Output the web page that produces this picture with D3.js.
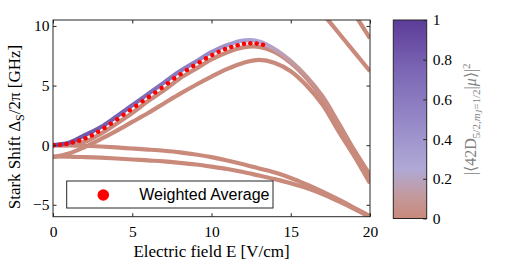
<!DOCTYPE html>
<html>
<head>
<meta charset="utf-8">
<script src="https://cdn.jsdelivr.net/npm/d3@7/dist/d3.min.js"></script>
<style>
  body { margin: 0; background: #fff; }
  svg { display: block; }
</style>
</head>
<body>
<div id="chart"></div>
<script>

// electric field samples (V/cm)
fieldE = [0, 1, 2, 3, 4, 5, 6, 7, 8, 9, 10, 11, 12, 13, 14, 15, 16, 17, 18, 19, 20]

// Stark shifted levels (GHz)
levelA = [0, 0.2, 0.85, 1.5, 2.4, 3.35, 4.3, 5.25, 6.2, 7.0, 7.8, 8.4, 8.78, 8.7, 8.05, 7.05, 5.75, 4.1, 1.9, -0.4, -2.5]
levelAWeight = [0.88, 0.86, 0.84, 0.81, 0.78, 0.74, 0.7, 0.65, 0.6, 0.54, 0.47, 0.4, 0.33, 0.26, 0.19, 0.13, 0.08, 0.04, 0.02, 0.01, 0]
levelB = [0, 0.0, 0.28, 0.95, 1.8, 2.7, 3.7, 4.6, 5.6, 6.4, 7.2, 7.8, 8.2, 8.25, 7.8, 6.9, 5.6, 3.9, 1.6, -0.7, -2.8]
levelC = [-1.0, -0.7, -0.15, 0.5, 1.2, 1.95, 2.7, 3.5, 4.3, 5.05, 5.75, 6.4, 6.9, 7.15, 6.9, 6.2, 5.0, 3.4, 1.2, -0.9, -3.2]
levelD = [0, -0.01, -0.05, -0.11, -0.19, -0.28, -0.37, -0.47, -0.6, -0.78, -1.0, -1.28, -1.6, -1.95, -2.3, -2.75, -3.3, -3.9, -4.55, -5.25, -5.95]
levelE = [-0.95, -0.96, -1.0, -1.05, -1.12, -1.2, -1.28, -1.36, -1.48, -1.62, -1.8, -2.0, -2.25, -2.55, -2.85, -3.2, -3.6, -4.1, -4.7, -5.35, -6.05]

// levels coming down from above
fieldF = [17, 18, 19, 20]
levelF = [11.07, 9.45, 7.83, 6.2]
fieldG = [18.5, 19, 20]
levelG = [12.1, 11.05, 8.96]

// weighted average (red dots)
avgE = [0.05, 0.45, 0.85, 1.25, 1.65, 2.05, 2.45, 2.85, 3.25, 3.65, 4.05, 4.45, 4.85, 5.25, 5.65, 6.05, 6.45,
        6.85, 7.25, 7.65, 8.05, 8.45, 8.85, 9.25, 9.65, 10.05, 10.45, 10.85, 11.25, 11.65, 12.05, 12.45, 12.85, 13.25]
avgShift = [0.0, 0.03, 0.1, 0.22, 0.38, 0.58, 0.82, 1.12, 1.45, 1.8, 2.17, 2.55, 2.92, 3.3, 3.68, 4.05, 4.42,
            4.8, 5.2, 5.6, 5.95, 6.3, 6.64, 6.96, 7.28, 7.56, 7.84, 8.06, 8.23, 8.38, 8.5, 8.54, 8.52, 8.42]

xTicks = [0, 5, 10, 15, 20]
yTicks = [-5, 0, 5, 10]
cbTicks = [0, 0.2, 0.4, 0.6, 0.8, 1]

// colormap of the overlap
cbStops = [0, 0.12, 0.25, 0.5, 0.75, 1]
cbColors = ["#c9897a", "#c29a9f", "#b0a9d6", "#9587c7", "#7b66b4", "#5d3c98"]

brown = "#c98a7c"
axisColor = "#262626"
serif = "'Liberation Serif', 'Times New Roman', serif"

margin = {top: 20, right: 139, bottom: 46.3, left: 53},
  width = 509 - margin.left - margin.right,
  height = 263 - margin.top - margin.bottom;

root = d3.select("#chart")
  .append("svg")
  .attr("width", 509)
  .attr("height", 263)

svg = root.append("g")
  .attr("transform", `translate(${margin.left}, ${margin.top})`);

x = d3.scaleLinear().domain([0, 20]).range([0, width])
y = d3.scaleLinear().domain([-6, 10.5]).range([height, 0])

myColor = d3.scaleLinear()
  .domain(cbStops)
  .range(cbColors)
  .interpolate(d3.interpolateRgb)

defs = root.append("defs")
defs.append("clipPath").attr("id", "plotclip")
  .append("rect")
  .attr("width", width)
  .attr("height", height)

// gradient along E for the coloured level
gradA = defs.append("linearGradient")
  .attr("id", "gradA")
  .attr("gradientUnits", "userSpaceOnUse")
  .attr("x1", x(0)).attr("x2", x(20))
  .attr("y1", 0).attr("y2", 0)
gradA.selectAll("stop")
  .data(fieldE)
  .join("stop")
    .attr("offset", d => d / 20)
    .attr("stop-color", (d, i) => myColor(levelAWeight[i]))

// colorbar gradient
gradCb = defs.append("linearGradient")
  .attr("id", "gradCb")
  .attr("x1", 0).attr("x2", 0)
  .attr("y1", 1).attr("y2", 0)
gradCb.selectAll("stop")
  .data(cbStops)
  .join("stop")
    .attr("offset", d => d)
    .attr("stop-color", (d, i) => cbColors[i])

line = d3.line()
  .x(d => x(d[0]))
  .y(d => y(d[1]))
  .curve(d3.curveCatmullRom)

plot = svg.append("g").attr("clip-path", "url(#plotclip)")

brownLevels = [
  [fieldE, levelD], [fieldE, levelE], [fieldE, levelC], [fieldE, levelB],
  [fieldF, levelF], [fieldG, levelG]
]
plot.selectAll(".level")
  .data(brownLevels)
  .join("path")
    .attr("class", "level")
    .attr("d", d => line(d[0].map((e, i) => [e, d[1][i]])))
    .style("fill", "none")
    .style("stroke", brown)
    .style("stroke-width", 4.2)

plot.append("path")
  .attr("d", line(fieldE.map((e, i) => [e, levelA[i]])))
  .style("fill", "none")
  .style("stroke", "url(#gradA)")
  .style("stroke-width", 4.2)

plot.selectAll(".avg")
  .data(avgE)
  .join("circle")
    .attr("class", "avg")
    .attr("cx", d => x(d))
    .attr("cy", (d, i) => y(avgShift[i]))
    .attr("r", 2.3)
    .style("fill", "#ff0000")

// axes, ticks inside on all four sides
function styleAxis(g) {
  g.select(".domain").remove()
  g.selectAll(".tick line").style("stroke", axisColor)
  g.selectAll("text")
    .style("font-family", serif)
    .style("font-size", "15.5px")
    .style("fill", "#000")
}
svg.append("g")
  .attr("transform", `translate(0, ${height})`)
  .call(d3.axisBottom(x).tickValues(xTicks).tickSize(-3.5).tickPadding(9))
  .call(styleAxis)
svg.append("g")
  .call(d3.axisTop(x).tickValues(xTicks).tickSize(-3.5).tickFormat(""))
  .call(styleAxis)
svg.append("g")
  .call(d3.axisLeft(y).tickValues(yTicks).tickSize(-3.5).tickPadding(3.5))
  .call(styleAxis)
svg.append("g")
  .attr("transform", `translate(${width}, 0)`)
  .call(d3.axisRight(y).tickValues(yTicks).tickSize(-3.5).tickFormat(""))
  .call(styleAxis)

svg.append("rect")
  .attr("width", width)
  .attr("height", height)
  .style("fill", "none")
  .style("stroke", axisColor)
  .style("stroke-width", 1)

// legend
svg.append("rect")
  .attr("x", 13.7).attr("y", 161)
  .attr("width", 206.3).attr("height", 27)
  .style("fill", "#fff")
  .style("stroke", axisColor)
svg.append("circle")
  .attr("cx", 50.3).attr("cy", 175)
  .attr("r", 5.8)
  .style("fill", "#ff0000")
svg.append("text")
  .attr("x", 86.3).attr("y", 180)
  .style("font-family", "'Liberation Sans', Arial, sans-serif")
  .style("font-size", "16px")
  .text("Weighted Average")

// axis titles
root.append("text")
  .attr("x", margin.left + width / 2).attr("y", 257)
  .attr("text-anchor", "middle")
  .style("font-family", serif)
  .style("font-size", "17px")
  .text("Electric field E [V/cm]")

yTitle = root.append("text")
  .attr("transform", "translate(20, 127) rotate(-90)")
  .attr("text-anchor", "middle")
  .style("font-family", serif)
  .style("font-size", "17px")
yTitle.append("tspan").text("Stark Shift Δ")
yTitle.append("tspan").attr("dy", 4).style("font-size", "12px").text("S")
yTitle.append("tspan").attr("dy", -4).text("/2π [GHz]")

// colorbar
cbX = 393.3, cbW = 33.4, cbTop = 20, cbBottom = 218.5
cb = d3.scaleLinear().domain([0, 1]).range([cbBottom, cbTop])

root.append("rect")
  .attr("x", cbX).attr("y", cbTop)
  .attr("width", cbW).attr("height", cbBottom - cbTop)
  .style("fill", "url(#gradCb)")
  .style("stroke", axisColor)
root.append("g")
  .attr("transform", `translate(${cbX + cbW}, 0)`)
  .call(d3.axisRight(cb).tickValues(cbTicks).tickSize(-3.5).tickPadding(6).tickFormat(d3.format("~g")))
  .call(styleAxis)

cbTitle = root.append("text")
  .attr("transform", `translate(476, ${(cbTop + cbBottom) / 2}) rotate(-90)`)
  .attr("text-anchor", "middle")
  .style("font-family", serif)
  .style("font-size", "16px")
  .style("fill", "#808080")
cbTitle.append("tspan").text("|⟨42D")
cbTitle.append("tspan").attr("dy", 4).style("font-size", "11px").text("5/2,")
cbTitle.append("tspan").style("font-size", "11px").style("font-style", "italic").text("m")
cbTitle.append("tspan").attr("dy", 2).style("font-size", "8px").style("font-style", "italic").text("J")
cbTitle.append("tspan").attr("dy", -2).style("font-size", "11px").text("=1/2")
cbTitle.append("tspan").attr("dy", -4).text("|")
cbTitle.append("tspan").style("font-style", "italic").text("μ")
cbTitle.append("tspan").text("⟩|")
cbTitle.append("tspan").attr("dy", -6).style("font-size", "11px").text("2")

</script>
</body>
</html>
